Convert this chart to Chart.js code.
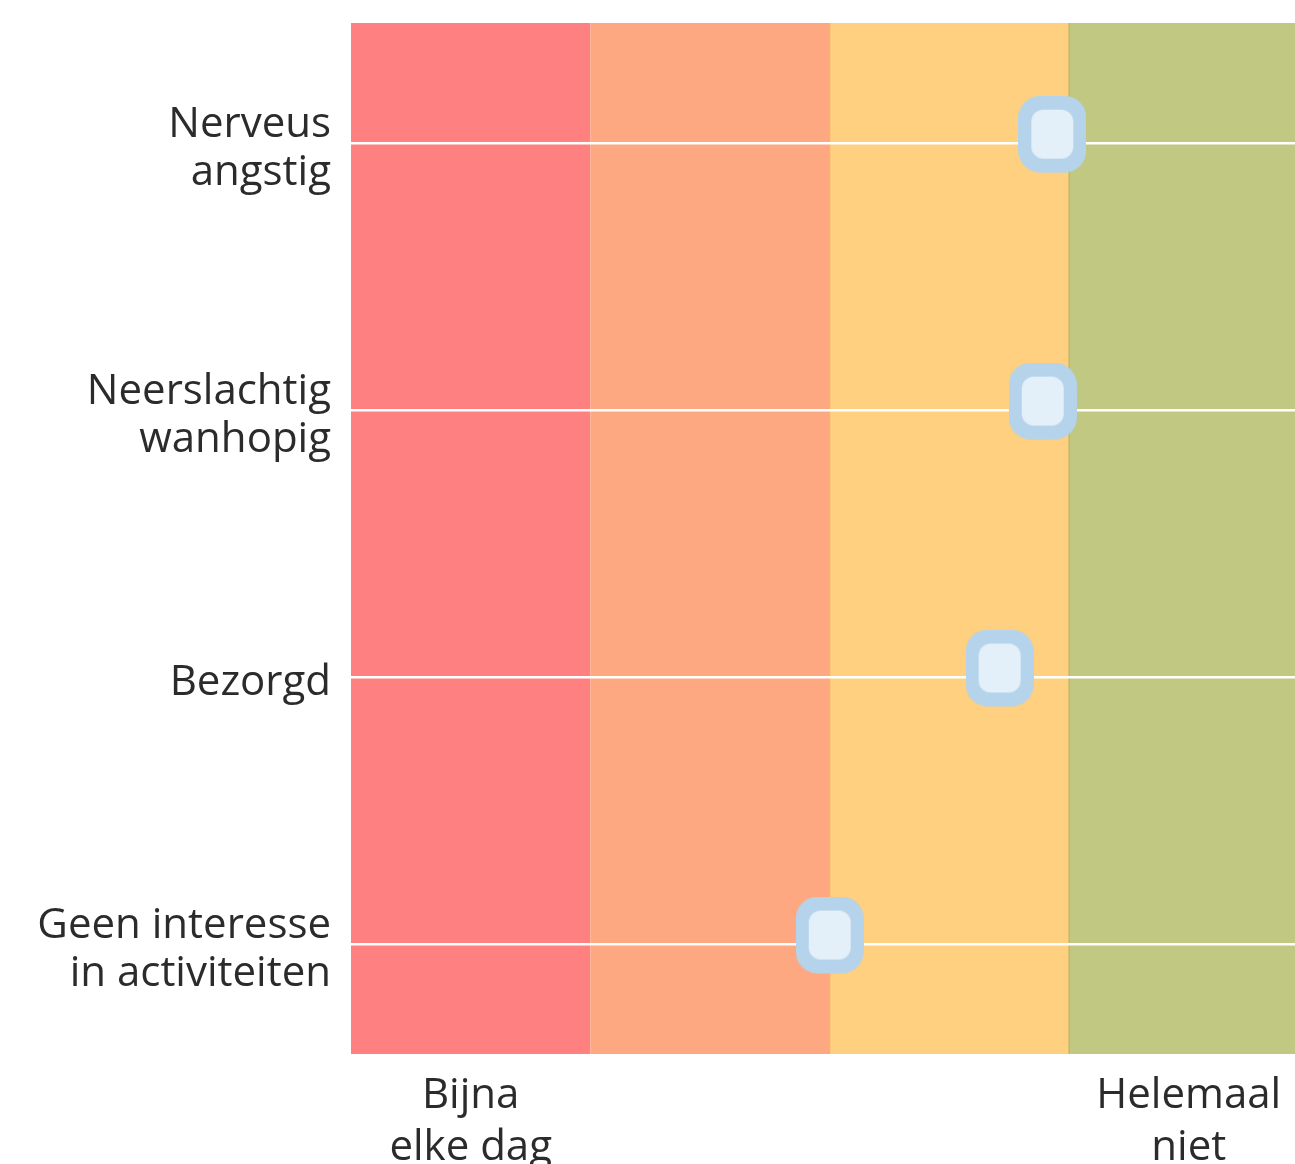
<!DOCTYPE html>
<html>
<head>
<meta charset="utf-8">
<script src="https://cdn.jsdelivr.net/npm/chart.js@4"></script>
<style>
  html, body { margin: 0; padding: 0; background: #fff; }
  #wrap { width: 1295px; height: 1164px; position: relative; }
</style>
</head>
<body>
<div id="wrap"><canvas id="chart"></canvas></div>
<script>
const categories = [
  ["Nerveus", "angstig"],
  ["Neerslachtig", "wanhopig"],
  ["Bezorgd"],
  ["Geen interesse", "in activiteiten"],
]
const scores = [2.93, 2.89, 2.71, 2.0]

const xTickValues = [0.5, 3.5]
const xTickLabels = [["Bijna", "elke dag"], ["Helemaal", "niet"]]

// band edges on the x scale and their colours
const bandStarts = [0, 1, 2, 3]
const bandEnds = [1, 2, 3, 4]
const bandColors = ["#fe8080", "#fda880", "#fed07f", "#c1c882"]
const bandEdgeColors = [null, null, "#f8b04e", "#aeb061"]

// rounded square marker, drawn a bit above the line
function makeMarker() {
  const w = 68, h = 77, lift = 9
  const c = document.createElement("canvas")
  c.width = w
  c.height = h + lift * 2
  const ctx = c.getContext("2d")
  ctx.fillStyle = "#b5d3ea"
  ctx.beginPath()
  ctx.roundRect(0, 0, w, h, 22)
  ctx.fill()
  ctx.fillStyle = "#e3f0f9"
  ctx.beginPath()
  ctx.roundRect(13, 14, w - 26, h - 28, 12)
  ctx.fill()
  return c
}

const bands = {
  id: "bands",
  beforeDraw(chart) {
    const { ctx, chartArea, scales } = chart
    ctx.save()
    ctx.beginPath()
    ctx.rect(chartArea.left, chartArea.top, chartArea.right - chartArea.left, chartArea.bottom - chartArea.top)
    ctx.clip()
    bandStarts.forEach((s, i) => {
      const x0 = scales.x.getPixelForValue(s)
      const x1 = scales.x.getPixelForValue(bandEnds[i])
      ctx.fillStyle = bandColors[i]
      ctx.fillRect(x0, chartArea.top, x1 - x0, chartArea.bottom - chartArea.top)
      if (bandEdgeColors[i]) {
        ctx.fillStyle = bandEdgeColors[i]
        ctx.fillRect(x0 - 0.5, chartArea.top, 1, chartArea.bottom - chartArea.top)
      }
    })
    ctx.restore()
  },
}

function noPadding(scale) {
  scale.paddingTop = 0
  scale.paddingBottom = 0
  scale.paddingLeft = 0
  scale.paddingRight = 0
}

const data = {
  datasets: [
    {
      data: scores.map((v, i) => ({ x: v, y: i })),
      showLine: false,
      pointStyle: makeMarker(),
    },
  ],
}

const config = {
  type: "scatter",
  data: data,
  plugins: [bands],
  options: {
    responsive: true,
    maintainAspectRatio: false,
    animation: false,
    layout: { autoPadding: false, padding: { top: 23, left: 0, right: 0, bottom: 0 } },
    plugins: {
      legend: { display: false },
      tooltip: { enabled: false },
    },
    scales: {
      x: {
        type: "linear",
        min: 0,
        max: 3.944,
        grid: { display: false },
        border: { display: false },
        afterBuildTicks: (scale) => {
          scale.ticks = xTickValues.map((v) => ({ value: v }))
        },
        afterFit: (scale) => {
          scale.height = 110
          noPadding(scale)
        },
        ticks: {
          autoSkip: false,
          maxRotation: 0,
          padding: 8,
          color: "#2b2b2b",
          font: { family: "'Open Sans'", size: 42, lineHeight: 1.24 },
          callback: (v, i) => xTickLabels[i],
        },
      },
      y: {
        type: "linear",
        reverse: true,
        min: -0.45,
        max: 3.412,
        grid: { color: "#ffffff", lineWidth: 2.5, drawTicks: false },
        border: { display: false },
        afterBuildTicks: (scale) => {
          scale.ticks = categories.map((c, i) => ({ value: i }))
        },
        afterFit: (scale) => {
          scale.width = 351
          noPadding(scale)
        },
        ticks: {
          autoSkip: false,
          padding: 20,
          labelOffset: 6,
          color: "#2b2b2b",
          font: { family: "'Open Sans'", size: 42, lineHeight: 1.15 },
          callback: (v, i) => categories[i],
        },
      },
    },
  },
}

const myChart = new Chart(document.getElementById("chart"), config)
</script>
</body>
</html>
